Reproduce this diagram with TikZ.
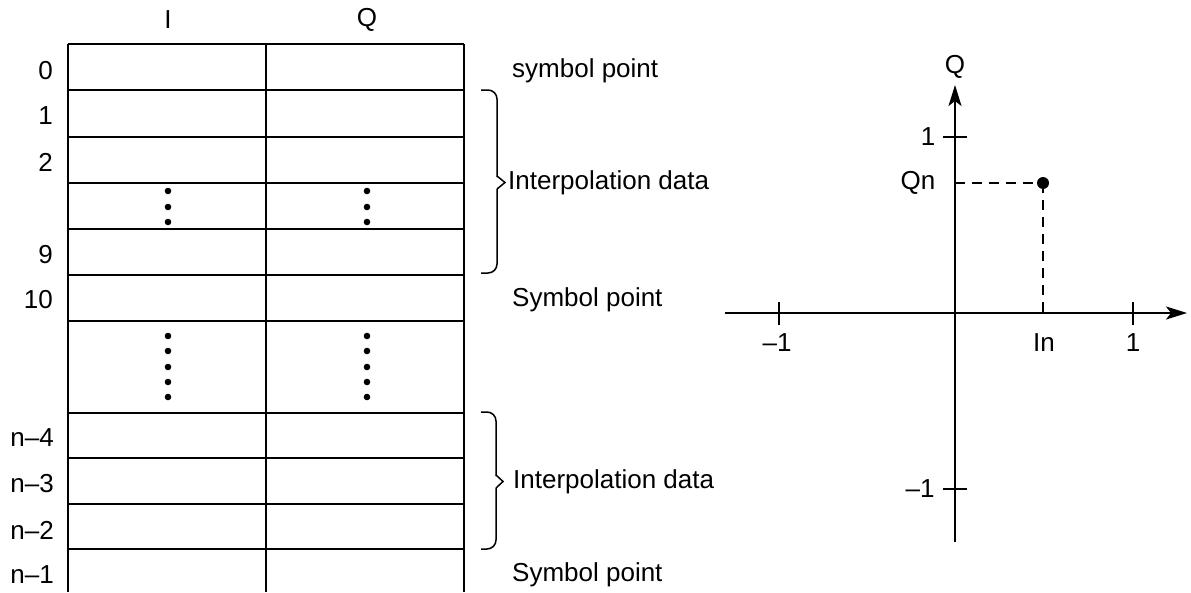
\documentclass[tikz,border=0pt]{standalone}
\usepackage{fontspec}
\setmainfont{Liberation Sans}
\usetikzlibrary{arrows.meta}
\tikzset{
  lbl/.style={inner sep=0pt, font=\fontsize{26}{31}\selectfont},
  grid/.style={line width=1.6pt},
  axis/.style={line width=1.8pt, -{Stealth[length=21pt,width=13pt,inset=5pt]}},
  tick/.style={line width=1.5pt},
  guide/.style={line width=1.4pt, dash pattern=on 10pt off 7pt},
  brk/.style={line width=1.5pt, rounded corners=9pt},
  dotm/.style={fill=black}
}
\begin{document}
\begin{tikzpicture}[x=1pt,y=-1pt]
\useasboundingbox (0,0) rectangle (1191,592);
% table
\foreach \y in {44,90,137,183,229,275,321,413,458,504,549}
  \draw[grid] (68,\y) -- (464,\y);
\foreach \x in {68,266,464}
  \draw[grid] (\x,44) -- (\x,592);
% headers
\node[lbl] (hI) at (168,20) {I};
\node[lbl] (hQ) at (367,20) {Q};
% row labels
\node[lbl, anchor=east] (r0) at (53,71) {0};
\node[lbl, anchor=east] (r1) at (53,116) {1};
\node[lbl, anchor=east] (r2) at (53,162) {2};
\node[lbl, anchor=east] (r9) at (53,255) {9};
\node[lbl, anchor=east] (r10) at (53,300) {10};
\node[lbl, anchor=east] (rn4) at (54,438) {n–4};
\node[lbl, anchor=east] (rn3) at (54,484) {n–3};
\node[lbl, anchor=east] (rn2) at (54,530) {n–2};
\node[lbl, anchor=east] (rn1) at (54,575) {n–1};
% dots
\foreach \x in {168,367}{
  \foreach \y in {191,207,222} \fill[dotm] (\x,\y) circle (3.3pt);
  \foreach \y in {336,351,367,382,397} \fill[dotm] (\x,\y) circle (3.3pt);
}
% side labels
\node[lbl, anchor=west] (s0) at (512,71) {symbol point};
\node[lbl, anchor=west] (ip1) at (508,183) {Interpolation data};
\node[lbl, anchor=west] (s10) at (512,300) {Symbol point};
\node[lbl, anchor=west] (ip2) at (513,482) {Interpolation data};
\node[lbl, anchor=west] (sn1) at (512,575) {Symbol point};
% braces
\draw[brk] (481,90) -- (497,90) -- (497,177);
\draw[line width=1.5pt] (497,176) -- (505,182.5) -- (497,189);
\draw[brk] (497,189) -- (497,273) -- (481,273);
\draw[brk] (481,412) -- (496,412) -- (496,476);
\draw[line width=1.5pt] (496,475) -- (503,481.5) -- (496,488);
\draw[brk] (496,488) -- (496,549) -- (481,549);
% plot
\coordinate (O) at (955,313);
\coordinate (xl) at (725,313);
\coordinate (xr) at (1187,313);
\coordinate (yb) at (955,542);
\coordinate (yt) at (955,85);
\draw[axis] (xl) -- (xr);
\draw[axis] (yb) -- (yt);
\draw[tick] (779,302) -- (779,325);
\draw[tick] (1133,302) -- (1133,325);
\draw[tick] (943,137) -- (967,137);
\draw[tick] (943,489) -- (967,489);
\node[lbl] (xm1) at (777,343) {–1};
\node[lbl] (xin) at (1044,343) {In};
\node[lbl] (xp1) at (1133,343) {1};
\node[lbl] (yQ) at (955,67) {Q};
\node[lbl] (yp1) at (928,137) {1};
\node[lbl] (yqn) at (918,183) {Qn};
\node[lbl] (ym1) at (920,489) {–1};
\coordinate (qa) at (955,183);
\coordinate (ia) at (1043,313);
\node[circle, fill=black, inner sep=0pt, minimum size=12pt] (P) at (1043,183) {};
\draw[guide] (qa) -- (P.center);
\draw[guide] (P.center) -- (ia);
\end{tikzpicture}
\end{document}
